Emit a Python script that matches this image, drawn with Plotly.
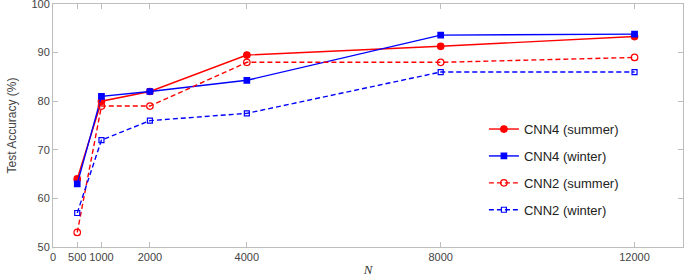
import plotly.graph_objects as go

N = [500, 1000, 2000, 4000, 8000, 12000]
cnn4_summer = [64, 80, 82, 89.5, 91.3, 93.3]
cnn4_winter = [63, 81, 82, 84.3, 93.6, 93.8]
cnn2_summer = [53, 79, 79, 88, 88, 89]
cnn2_winter = [57, 72, 76, 77.5, 86, 86]
x_ticks = [0, 500, 1000, 2000, 4000, 8000, 12000]
y_ticks = [50, 60, 70, 80, 90, 100]

series = [
    ("CNN4 (summer)", cnn4_summer, "#ff0000", "solid", "circle", 6.5),
    ("CNN4 (winter)", cnn4_winter, "#0000ff", "solid", "square", 5.5),
    ("CNN2 (summer)", cnn2_summer, "#ff0000", "5px,3px", "circle-open", 6.5),
    ("CNN2 (winter)", cnn2_winter, "#0000ff", "5px,3px", "square-open", 5),
]

fig = go.Figure()
for i, (name, vals, col, dash, sym, sz) in enumerate(series):
    fig.add_trace(go.Scatter(
        x=N, y=vals, name=name, mode="lines+markers", legendgroup=f"g{i}",
        line=dict(color=col, width=1.4, dash=dash),
        marker=dict(symbol=sym, size=sz, color=col, line=dict(color=col, width=1.2)),
    ))

axis_common = dict(
    showline=True, linecolor="#bdbdbd", linewidth=1, mirror="ticks",
    ticks="inside", ticklen=5, tickcolor="#bdbdbd", showgrid=False, zeroline=False,
    automargin=False, ticklabeloverflow="allow",
    tickfont=dict(family="Liberation Sans, Arial", size=11, color="#444444"),
)

fig.update_layout(
    width=685, height=277,
    margin=dict(l=53, r=2, t=4, b=30, autoexpand=False),
    paper_bgcolor="white", plot_bgcolor="white",
    showlegend=True,
    legend=dict(x=0.684, y=0.547, xanchor="left", yanchor="top",
                bgcolor="rgba(0,0,0,0)", tracegroupgap=7,
                font=dict(family="Liberation Sans, Arial", size=13, color="#222222")),
    xaxis=dict(range=[0, 13000], tickvals=x_ticks, ticktext=[str(t) for t in x_ticks],
               title=dict(text="<i>N</i>", standoff=8,
                          font=dict(family="Liberation Serif, Times New Roman", size=13, color="#333333")),
               **axis_common),
    yaxis=dict(range=[50, 100], tickvals=y_ticks,
               title=dict(text="Test Accuracy (%)", standoff=12,
                          font=dict(family="Liberation Sans, Arial", size=12, color="#444444")),
               **axis_common),
)

fig.write_html("out.html", config={"displayModeBar": False},
               post_script="document.body.style.margin='0';document.body.style.overflow='hidden';")
